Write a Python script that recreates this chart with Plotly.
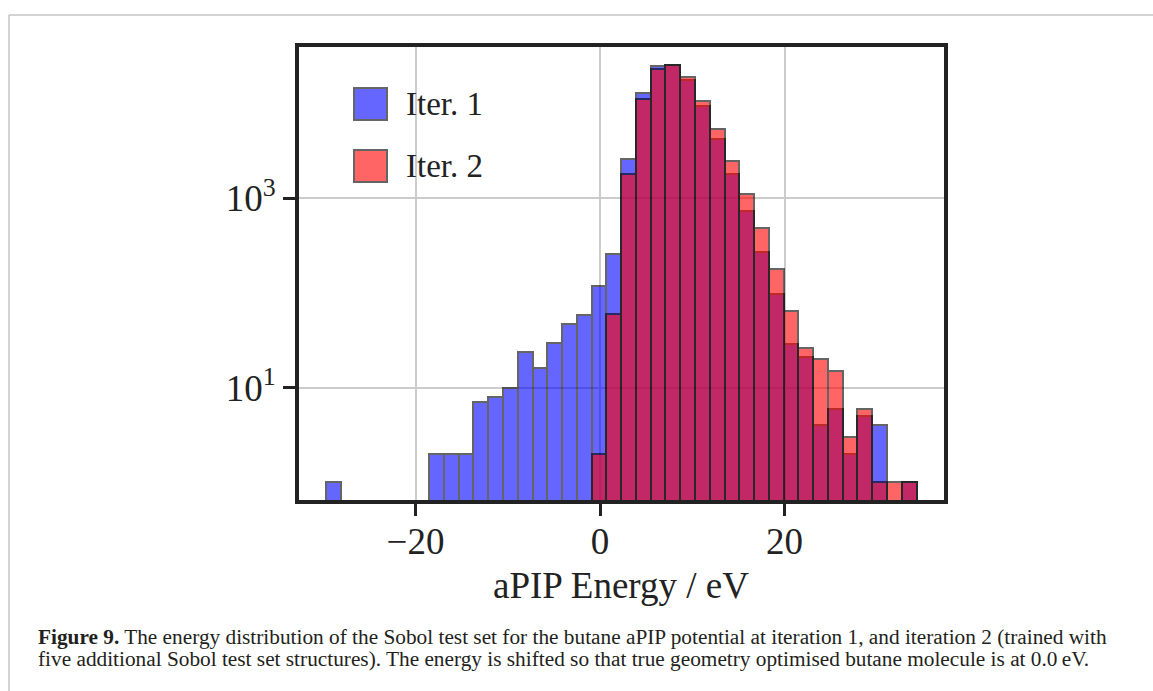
import plotly.graph_objects as go

# Histogram bins shared by both iterations (energy in eV)
bin_start = -29.73
bin_width = 1.601
n_bins = 40

# Counts per bin for the Sobol test set
iter1_counts = [1, 0, 0, 0, 0, 0, 0, 2, 2, 2,
                7, 8, 10, 24, 16, 30, 47, 59, 119, 256,
                2600, 12850, 25100, 25300, 17700, 9400, 4230, 1810, 735, 270,
                97, 29, 21, 4, 6, 2, 5, 4, 0, 1]
iter2_counts = [0, 0, 0, 0, 0, 0, 0, 0, 0, 0,
                0, 0, 0, 0, 0, 0, 0, 0, 2, 60,
                1790, 11100, 23000, 25600, 19200, 10700, 5360, 2500, 1110, 490,
                178, 64, 26, 20, 15, 3, 6, 1, 1, 1]

series_names = ["Iter. 1", "Iter. 2"]
series_colors = ["rgb(0,0,255)", "rgb(255,0,0)"]

x_ticks = [-20, 0, 20]
x_tick_text = ["\u221220", "0", "20"]
y_ticks = [10, 1000]
y_tick_text = ["10<sup>1</sup>", "10<sup>3</sup>"]

x_title = "aPIP Energy / eV"
caption_1 = ("<b>Figure 9.</b> The energy distribution of the Sobol test set for the butane aPIP "
             "potential at iteration 1, and iteration 2 (trained with")
caption_2 = ("five additional Sobol test set structures). The energy is shifted so that true "
             "geometry optimised butane molecule is at 0.0\u2009eV.")

W, H = 1153, 691
SERIF = "Liberation Serif, Times New Roman, serif"
INK = "#222222"

centers = [bin_start + (k + 0.5) * bin_width for k in range(n_bins)]


def px(x):
    return x / W


def py(y):
    return 1 - y / H


fig = go.Figure()
for name, color, counts in zip(series_names, series_colors,
                               [iter1_counts, iter2_counts]):
    fig.add_trace(go.Bar(
        x=centers,
        y=[c if c > 0 else None for c in counts],
        width=bin_width,
        name=name,
        marker=dict(color=color, line=dict(color="black", width=2)),
        opacity=0.6,
        showlegend=False,
    ))

# plot area in pixels
left, right, top, bottom = 299, 944, 47, 500
x0_px, x_scale = 600, 9.225          # pixel of x=0, pixels per eV
y3_px, y_dec = 198.3, 94.7           # pixel of 10^3, pixels per decade

axis_common = dict(
    showline=True, mirror=True, linecolor=INK, linewidth=4,
    ticks="outside", ticklen=12, tickwidth=3, tickcolor=INK,
    showgrid=True, gridcolor="#cccccc", gridwidth=2,
    zeroline=False,
    tickfont=dict(family=SERIF, size=37, color=INK),
)

fig.update_layout(
    width=W, height=H,
    margin=dict(l=0, r=0, t=0, b=0),
    paper_bgcolor="white", plot_bgcolor="white",
    barmode="overlay",
    bargap=0,
    xaxis=dict(
        domain=[px(left), px(right)],
        range=[(left - x0_px) / x_scale, (right - x0_px) / x_scale],
        tickvals=x_ticks, ticktext=x_tick_text,
        ticklabelstandoff=-6,
        **axis_common,
    ),
    yaxis=dict(
        type="log",
        domain=[py(bottom), py(top)],
        range=[3 - (bottom - y3_px) / y_dec, 3 + (y3_px - top) / y_dec],
        tickvals=y_ticks, ticktext=y_tick_text,
        **axis_common,
    ),
)

shapes = []
annotations = []

# legend
legend_rows = [104, 166]
for name, color, yc in zip(series_names, series_colors, legend_rows):
    shapes.append(dict(
        type="rect", xref="paper", yref="paper",
        x0=px(354), x1=px(387), y0=py(yc - 16), y1=py(yc + 16),
        fillcolor=color, opacity=0.6,
        line=dict(color="black", width=2),
    ))
    annotations.append(dict(
        xref="paper", yref="paper", x=px(404), y=py(yc),
        xanchor="left", yanchor="middle", showarrow=False,
        text=name, font=dict(family=SERIF, size=33, color=INK),
    ))

# x-axis title
annotations.append(dict(
    xref="paper", yref="paper", x=px(621), y=py(585),
    xanchor="center", yanchor="middle", showarrow=False,
    text=x_title, font=dict(family=SERIF, size=37, color=INK),
))

# caption
for text, yc in [(caption_1, 637), (caption_2, 659)]:
    annotations.append(dict(
        xref="paper", yref="paper", x=px(36), y=py(yc),
        xanchor="left", yanchor="middle", showarrow=False,
        text=text, font=dict(family=SERIF, size=21.3, color="#231f20"),
    ))

# page frame
shapes.append(dict(type="line", xref="paper", yref="paper",
                   x0=px(9), x1=1, y0=py(15), y1=py(15),
                   line=dict(color="#c4c4c4", width=1.5)))
shapes.append(dict(type="line", xref="paper", yref="paper",
                   x0=px(9), x1=px(9), y0=py(15), y1=0,
                   line=dict(color="#c4c4c4", width=1.5)))

fig.update_layout(shapes=shapes, annotations=annotations)
fig.write_html("out.html")
